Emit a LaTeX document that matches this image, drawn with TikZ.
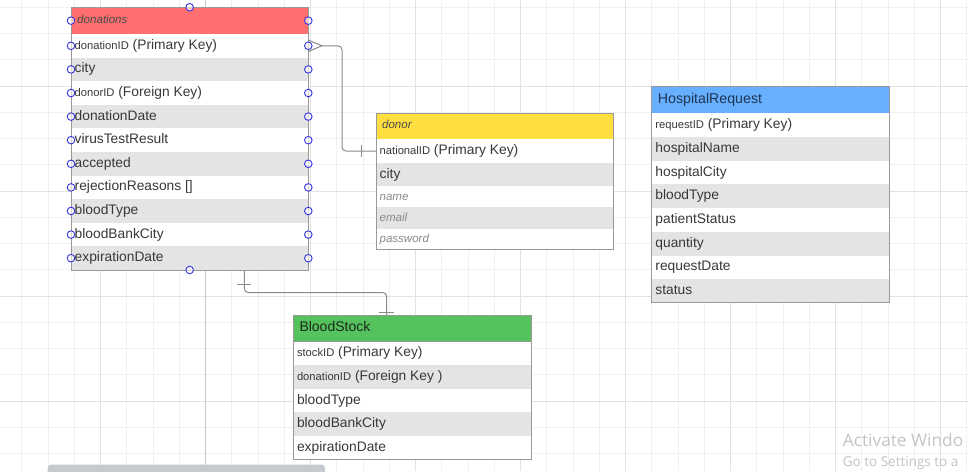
\documentclass[tikz,border=0pt]{standalone}
\usepackage{fontspec}
\setmainfont{Liberation Sans}
\newfontfamily\winfont{Open Sans}
\usetikzlibrary{calc}
\definecolor{gridminor}{HTML}{F0F0F0}
\definecolor{gridmajor}{HTML}{E2E2E2}
\definecolor{gridpage}{HTML}{C8C8C8}
\definecolor{rowgray}{HTML}{E4E4E4}
\definecolor{framecol}{HTML}{999999}
\definecolor{txt}{HTML}{383838}
\definecolor{hdrtxt}{HTML}{4A4A4A}
\definecolor{softtxt}{HTML}{8A8A8A}
\definecolor{bluetxt}{HTML}{1F3450}
\definecolor{greentxt}{HTML}{1A2A1A}
\definecolor{hred}{HTML}{FF6F6F}
\definecolor{hyellow}{HTML}{FFDF3F}
\definecolor{hblue}{HTML}{66B0FF}
\definecolor{hgreen}{HTML}{55C25E}
\definecolor{portblue}{HTML}{3535DD}
\definecolor{conncol}{HTML}{8A8A8A}
\definecolor{wingray}{HTML}{C4C4C4}
\definecolor{scrollcol}{HTML}{C6C9CE}
\tikzset{
  rowbox/.style={draw=none, anchor=north west, inner sep=0pt, outer sep=0pt},
  celltext/.style={anchor=base west, inner sep=0pt, text=txt, font=\fontsize{13.8}{16}\selectfont},
  framestyle/.style={draw=framecol, line width=1pt},
  port/.style={circle, draw=portblue, line width=0.9pt, fill=white, fill opacity=0.6, minimum size=7.6pt, inner sep=0pt},
  conn/.style={draw=conncol, line width=1pt},
  gline/.style={draw=gridminor, line width=0.8pt},
  gmajor/.style={draw=gridmajor, line width=0.9pt},
}
\newcommand\keyname[1]{{\fontsize{11.2}{13}\selectfont #1}}
\newcommand\softcell[1]{{\itshape\fontsize{11.5}{13}\selectfont\color{softtxt}#1}}
\newcommand\erow[7]{%
  \node[rowbox, fill=#6, minimum width=#4pt, minimum height=#5pt] (#1) at (#2,#3) {};
  \node[celltext] (#1t) at ($(#1.west)+(3.5,3.5)$) {#7};}
\newcommand\ehead[8]{%
  \node[rowbox, draw=framecol, line width=1pt, fill=#6, minimum width=#4pt, minimum height=#5pt] (#1) at (#2,#3) {};
  \node[celltext] (#1t) at ($(#1.west)+(6,#8)$) {#7};}
\begin{document}
\begin{tikzpicture}[x=1pt,y=-1pt]
\useasboundingbox (0,0) rectangle (968,471);
\fill[white] (0,0) rectangle (968,471);
% grid
\foreach \i in {0,...,36} {\draw[gline] ({21.7+26.25*\i},0) -- ({21.7+26.25*\i},471);}
\foreach \i in {0,...,17} {\draw[gline] (0,{7.3+26.25*\i}) -- (968,{7.3+26.25*\i});}
\foreach \i in {0,...,8} {\draw[gmajor] ({100.45+105*\i},0) -- ({100.45+105*\i},471);}
\foreach \i in {0,...,3} {\draw[gmajor] (0,{86.05+105*\i}) -- (968,{86.05+105*\i});}
\draw[draw=gridpage, line width=0.9pt] (205.45,0) -- (205.45,471);

% donations
\ehead{dnh}{71}{7.3}{237.3}{26.7}{hred}{\itshape\fontsize{11.6}{13}\selectfont\color{hdrtxt}donations}{3.3}
\erow{dn1}{71}{34}{237.3}{23.6}{white}{\keyname{donationID} (Primary Key)}
\erow{dn2}{71}{57.6}{237.3}{23.6}{rowgray}{city}
\erow{dn3}{71}{81.2}{237.3}{23.6}{white}{\keyname{donorID} (Foreign Key)}
\erow{dn4}{71}{104.8}{237.3}{23.6}{rowgray}{donationDate}
\erow{dn5}{71}{128.4}{237.3}{23.6}{white}{virusTestResult}
\erow{dn6}{71}{152}{237.3}{23.6}{rowgray}{accepted}
\erow{dn7}{71}{175.6}{237.3}{23.6}{white}{rejectionReasons []}
\erow{dn8}{71}{199.2}{237.3}{23.6}{rowgray}{bloodType}
\erow{dn9}{71}{222.8}{237.3}{23.6}{white}{bloodBankCity}
\erow{dn10}{71}{246.4}{237.3}{23.6}{rowgray}{expirationDate}
\draw[framestyle] (dnh.north west) rectangle (dn10.south east);

% donor
\ehead{drh}{376}{113.3}{237}{26}{hyellow}{\itshape\fontsize{11.5}{13}\selectfont\color{hdrtxt}donor}{2.5}
\erow{dr1}{376}{139.3}{237}{23.4}{white}{\keyname{nationalID} (Primary Key)}
\erow{dr2}{376}{162.7}{237}{23.6}{rowgray}{city}
\erow{dr3}{376}{186.3}{237}{21}{white}{\softcell{name}}
\erow{dr4}{376}{207.3}{237}{21.5}{rowgray}{\softcell{email}}
\erow{dr5}{376}{228.8}{237}{21}{white}{\softcell{password}}
\draw[framestyle] (drh.north west) rectangle (dr5.south east);

% HospitalRequest
\ehead{hrh}{651.7}{86.7}{237.6}{26.6}{hblue}{\fontsize{14.2}{16}\selectfont\color{bluetxt}HospitalRequest}{3.3}
\erow{hr1}{651.7}{113.3}{237.6}{24}{white}{\keyname{requestID} (Primary Key)}
\erow{hr2}{651.7}{137.3}{237.6}{23.7}{rowgray}{hospitalName}
\erow{hr3}{651.7}{161}{237.6}{23}{white}{hospitalCity}
\erow{hr4}{651.7}{184}{237.6}{24.3}{rowgray}{bloodType}
\erow{hr5}{651.7}{208.3}{237.6}{23.4}{white}{patientStatus}
\erow{hr6}{651.7}{231.7}{237.6}{24}{rowgray}{quantity}
\erow{hr7}{651.7}{255.7}{237.6}{23.3}{white}{requestDate}
\erow{hr8}{651.7}{279}{237.6}{23.3}{rowgray}{status}
\draw[framestyle] (hrh.north west) rectangle (hr8.south east);

% BloodStock
\ehead{bsh}{293.3}{315}{238.4}{26.7}{hgreen}{\fontsize{14}{16}\selectfont\color{greentxt}BloodStock}{2.8}
\erow{bs1}{293.3}{341.7}{238.4}{23.3}{white}{\keyname{stockID} (Primary Key)}
\erow{bs2}{293.3}{365}{238.4}{24}{rowgray}{\keyname{donationID} (Foreign Key )}
\erow{bs3}{293.3}{389}{238.4}{23.3}{white}{bloodType}
\erow{bs4}{293.3}{412.3}{238.4}{23.7}{rowgray}{bloodBankCity}
\erow{bs5}{293.3}{436}{238.4}{23}{white}{expirationDate}
\draw[framestyle] (bsh.north west) rectangle (bs5.south east);

% connector donations -> donor
\coordinate (cf) at ($(dn1.east)+(13.5,0)$);
\coordinate (b1) at (342,0);
\draw[conn] ($(dn1.east)+(0,-5.7)$) -- (cf) -- ($(dn1.east)+(0,5.7)$);
\draw[conn, rounded corners=4pt] (cf) -- (cf -| b1) -- (b1 |- dr1.west) -- (dr1.west);
\draw[conn] ($(dr1.west)+(-14.3,-6.3)$) -- ($(dr1.west)+(-14.3,6.3)$);

% connector donations -> BloodStock
\coordinate (s2) at ($(dn10.south west)+(173.3,0)$);
\coordinate (b2) at (386.7,292.5);
\draw[conn, rounded corners=4pt] (s2) -- (s2 |- b2) -- (b2) -- (b2 |- bsh.north);
\draw[conn] ($(s2)+(-7,14)$) -- ($(s2)+(6.5,14)$);
\draw[conn] ($(b2 |- bsh.north)+(-7.5,-2.5)$) -- ($(b2 |- bsh.north)+(7.5,-2.5)$);

% ports
\foreach \r in {dnh,dn1,dn2,dn3,dn4,dn5,dn6,dn7,dn8,dn9,dn10} {
  \node[port] (pl-\r) at (\r.west) {};
  \node[port] (pr-\r) at (\r.east) {};
}
\node[port] (ptop) at (dnh.north) {};
\node[port] (pbot) at (dn10.south) {};

% scrollbar
\fill[scrollcol, rounded corners=3.5pt] (47.7,464.5) rectangle (325,478);

% watermark (visible part only)
\node[anchor=base west, inner sep=0pt, text=wingray, font=\winfont\fontsize{17.3}{20}\selectfont] (wm1) at (842.7,446.7) {Activate Windo};
\node[anchor=base west, inner sep=0pt, text=wingray, font=\winfont\fontsize{13.5}{16}\selectfont] (wm2) at (842.7,466.5) {Go to Settings to a};
\end{tikzpicture}
\end{document}
